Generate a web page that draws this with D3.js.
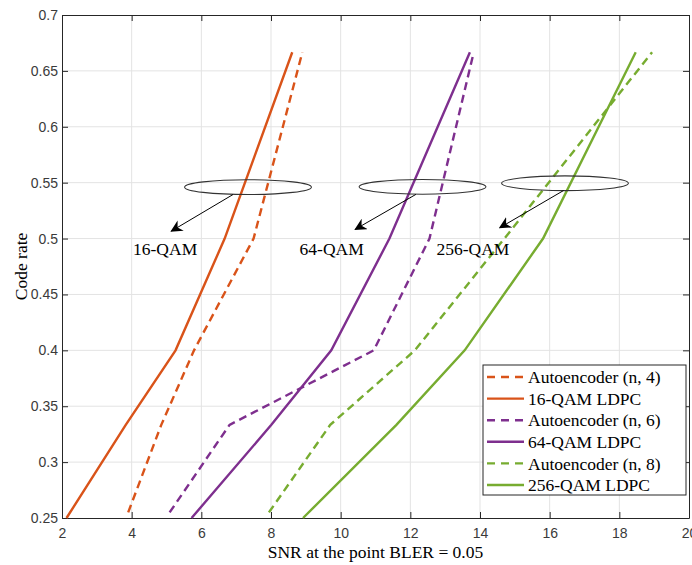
<!DOCTYPE html>
<html>
<head>
<meta charset="utf-8">
<script src="https://cdn.jsdelivr.net/npm/d3@7"></script>
<style>
  body { margin: 0; background: #fff; }
  svg { display: block; }
</style>
</head>
<body>
<svg id="chart"></svg>
<script>
// code rates used by every curve
const rates = [0.25, 1 / 3, 0.4, 0.5, 2 / 3];
const aeRates = [0.255, 1 / 3, 0.4, 0.5, 2 / 3];

// SNR (dB)
const ae4 = [3.9, 4.85, 5.79, 7.5, 8.9];
const ldpc16 = [2.13, 3.83, 5.26, 6.67, 8.61];
const ae6 = [5.09, 6.81, 10.95, 12.55, 13.82];
const ldpc64 = [5.72, 8.01, 9.73, 11.4, 13.71];
const ae8 = [7.94, 9.7, 12.13, 14.7, 18.94];
const ldpc256 = [8.92, 11.6, 13.56, 15.81, 18.47];

const seriesNames = ["Autoencoder (n, 4)", "16-QAM LDPC", "Autoencoder (n, 6)",
  "64-QAM LDPC", "Autoencoder (n, 8)", "256-QAM LDPC"];

const xTicks = [2, 4, 6, 8, 10, 12, 14, 16, 18, 20];
const yTicks = [0.25, 0.3, 0.35, 0.4, 0.45, 0.5, 0.55, 0.6, 0.65, 0.7];

// annotation: ellipse centres, arrow start/end, labels (data units)
const groupLabels = ["16-QAM", "64-QAM", "256-QAM"];
const ellipseX = [7.34, 12.35, 16.44];
const ellipseY = [0.546, 0.5463, 0.5495];
const arrowFrom = [[6.91, 0.5394], [12.16, 0.5395], [16.4, 0.543]];
const arrowTo = [[5.14, 0.5067], [10.42, 0.5083], [14.57, 0.5097]];
const labelX = [4.04, 8.82, 12.75];
const labelY = [0.4853, 0.4853, 0.4853];

const w = 692, h = 565;
const margin = { top: 15, right: 3, bottom: 47, left: 62 };
const colors = { o: "#D95319", p: "#7E2F8E", g: "#77AC30" };

const series = [
  { name: seriesNames[0], xs: ae4, ys: aeRates, color: colors.o, dash: true },
  { name: seriesNames[1], xs: ldpc16, ys: rates, color: colors.o, dash: false },
  { name: seriesNames[2], xs: ae6, ys: aeRates, color: colors.p, dash: true },
  { name: seriesNames[3], xs: ldpc64, ys: rates, color: colors.p, dash: false },
  { name: seriesNames[4], xs: ae8, ys: aeRates, color: colors.g, dash: true },
  { name: seriesNames[5], xs: ldpc256, ys: rates, color: colors.g, dash: false },
];

const svg = d3.select("#chart").attr("width", w).attr("height", h);

const x = d3.scaleLinear().domain([2, 20]).range([margin.left, w - margin.right]);
const y = d3.scaleLinear().domain([0.25, 0.7]).range([h - margin.bottom, margin.top]);

// grid
svg.append("g")
  .selectAll("line.gx")
  .data(xTicks.slice(1, -1))
  .join("line")
  .attr("x1", (d) => x(d)).attr("x2", (d) => x(d))
  .attr("y1", y(0.25)).attr("y2", y(0.7))
  .attr("stroke", "#e3e3e3").attr("stroke-width", 1);
svg.append("g")
  .selectAll("line.gy")
  .data(yTicks.slice(1, -1))
  .join("line")
  .attr("y1", (d) => y(d)).attr("y2", (d) => y(d))
  .attr("x1", x(2)).attr("x2", x(20))
  .attr("stroke", "#e3e3e3").attr("stroke-width", 1);

// axes
const fmt = (d) => String(+d.toFixed(2));
const tickFont = (g) => {
  g.select(".domain").attr("stroke", "#262626");
  g.selectAll(".tick line").attr("stroke", "#262626");
  g.selectAll("text").attr("fill", "#3a3a3a")
    .style("font-family", "Liberation Sans, Arial, sans-serif").style("font-size", "14px");
};
svg.append("g")
  .attr("transform", `translate(0,${y(0.25)})`)
  .call(d3.axisBottom(x).tickValues(xTicks).tickFormat(fmt).tickSizeInner(-6).tickSizeOuter(0).tickPadding(10))
  .call(tickFont);
svg.append("g")
  .attr("transform", `translate(0,${y(0.7)})`)
  .call(d3.axisTop(x).tickValues(xTicks).tickFormat("").tickSizeInner(-6).tickSizeOuter(0))
  .call(tickFont);
svg.append("g")
  .attr("transform", `translate(${x(2)},0)`)
  .call(d3.axisLeft(y).tickValues(yTicks).tickFormat(fmt).tickSizeInner(-6).tickSizeOuter(0).tickPadding(4))
  .call(tickFont);
svg.append("g")
  .attr("transform", `translate(${x(20)},0)`)
  .call(d3.axisRight(y).tickValues(yTicks).tickFormat("").tickSizeInner(-6).tickSizeOuter(0))
  .call(tickFont);

// curves
const line = d3.line().x((d) => x(d[0])).y((d) => y(d[1]));
svg.append("g")
  .selectAll("path")
  .data(series)
  .join("path")
  .attr("d", (s) => line(s.xs.map((v, i) => [v, s.ys[i]])))
  .attr("fill", "none")
  .attr("stroke", (s) => s.color)
  .attr("stroke-width", 2.4)
  .attr("stroke-dasharray", (s) => (s.dash ? "8,5" : null));

// annotations
svg.append("defs").append("marker")
  .attr("id", "head")
  .attr("viewBox", "0 0 10 10")
  .attr("refX", 9).attr("refY", 5)
  .attr("markerWidth", 12).attr("markerHeight", 12)
  .attr("markerUnits", "userSpaceOnUse")
  .attr("orient", "auto")
  .append("path")
  .attr("d", "M0,0 L10,5 L0,10 L3,5 Z")
  .attr("fill", "#000");

const ann = svg.append("g");
ann.selectAll("ellipse")
  .data(groupLabels)
  .join("ellipse")
  .attr("cx", (d, i) => x(ellipseX[i]))
  .attr("cy", (d, i) => y(ellipseY[i]))
  .attr("rx", x(2 + 1.82) - x(2))
  .attr("ry", y(0.25) - y(0.25 + 0.0066))
  .attr("fill", "none").attr("stroke", "#333").attr("stroke-width", 1.1);
ann.selectAll("line")
  .data(groupLabels)
  .join("line")
  .attr("x1", (d, i) => x(arrowFrom[i][0])).attr("y1", (d, i) => y(arrowFrom[i][1]))
  .attr("x2", (d, i) => x(arrowTo[i][0])).attr("y2", (d, i) => y(arrowTo[i][1]))
  .attr("stroke", "#000").attr("stroke-width", 1)
  .attr("marker-end", "url(#head)");
ann.selectAll("text")
  .data(groupLabels)
  .join("text")
  .attr("x", (d, i) => x(labelX[i]))
  .attr("y", (d, i) => y(labelY[i]))
  .text((d) => d)
  .style("font-family", "Liberation Serif, Times New Roman, serif")
  .style("font-size", "17.5px")
  .attr("fill", "#000");

// axis titles
svg.append("text")
  .attr("x", (x(2) + x(20)) / 2).attr("y", 558)
  .attr("text-anchor", "middle")
  .style("font-family", "Liberation Serif, Times New Roman, serif")
  .style("font-size", "17.5px")
  .text("SNR at the point BLER = 0.05");
svg.append("text")
  .attr("transform", `translate(27,${(y(0.25) + y(0.7)) / 2}) rotate(-90)`)
  .attr("text-anchor", "middle")
  .style("font-family", "Liberation Serif, Times New Roman, serif")
  .style("font-size", "17.5px")
  .text("Code rate");

// legend
const lg = svg.append("g").attr("transform", "translate(483,365)");
lg.append("rect")
  .attr("width", 203).attr("height", 130)
  .attr("fill", "#fff").attr("stroke", "#262626").attr("stroke-width", 1);
const rows = lg.selectAll("g.row")
  .data(series)
  .join("g")
  .attr("transform", (d, i) => `translate(0,${12 + i * 21.6})`);
rows.append("line")
  .attr("x1", 4).attr("x2", 41)
  .attr("stroke", (d) => d.color).attr("stroke-width", 2.4)
  .attr("stroke-dasharray", (d) => (d.dash ? "8,6" : null));
rows.append("text")
  .attr("x", 45).attr("dy", "0.35em")
  .text((d) => d.name)
  .style("font-family", "Liberation Serif, Times New Roman, serif")
  .style("font-size", "17.5px");
</script>
</body>
</html>
